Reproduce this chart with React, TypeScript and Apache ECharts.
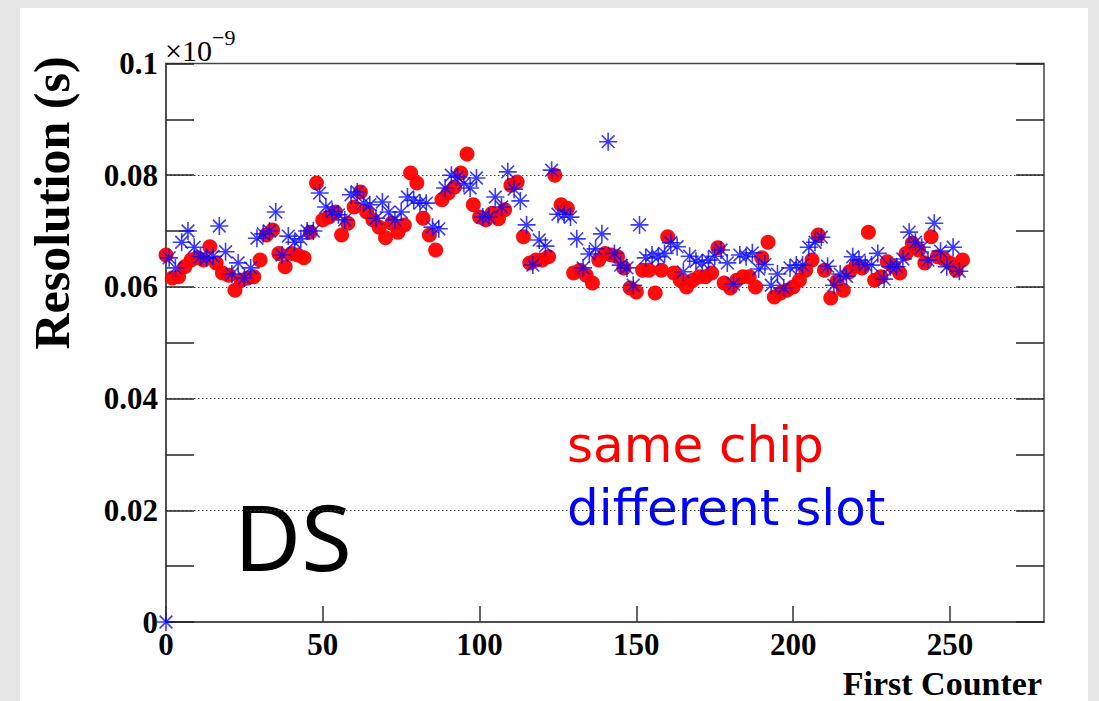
import React, { useEffect, useRef } from "react";
import * as echarts from "echarts";

// same chip: [first counter, resolution (x1e-9 s)]
const sameChip: [number, number][] = [
  [0, 0.0657], [2, 0.0616], [4, 0.0618], [6, 0.0636], [8, 0.0648], [10, 0.0652], [12, 0.0648], [14, 0.0672],
  [16, 0.0643], [18, 0.0625], [20, 0.0621], [22, 0.0594], [24, 0.0612], [26, 0.0616], [28, 0.0618], [30, 0.0648],
  [32, 0.0693], [34, 0.0702], [36, 0.066], [38, 0.0636], [40, 0.066], [42, 0.0657], [44, 0.0652], [46, 0.0698],
  [48, 0.0786], [50, 0.072], [52, 0.0725], [54, 0.0734], [56, 0.0693], [58, 0.0714], [60, 0.0743], [62, 0.077],
  [64, 0.0734], [66, 0.072], [68, 0.0707], [70, 0.0688], [72, 0.0714], [74, 0.0698], [76, 0.0711], [78, 0.0804],
  [80, 0.0786], [82, 0.0723], [84, 0.0693], [86, 0.0666], [88, 0.0756], [90, 0.0768], [92, 0.0779], [94, 0.0804],
  [96, 0.0838], [98, 0.0747], [100, 0.0725], [102, 0.072], [104, 0.0732], [106, 0.0722], [108, 0.0738], [110, 0.0782],
  [112, 0.0788], [114, 0.069], [116, 0.0643], [118, 0.0648], [120, 0.0648], [122, 0.0654], [124, 0.08], [126, 0.0747],
  [128, 0.0741], [130, 0.0625], [132, 0.063], [134, 0.0621], [136, 0.0607], [138, 0.0648], [140, 0.066], [142, 0.0657],
  [144, 0.0654], [146, 0.0634], [148, 0.0598], [150, 0.0591], [152, 0.063], [154, 0.063], [156, 0.0589], [158, 0.063],
  [160, 0.069], [162, 0.0625], [164, 0.0612], [166, 0.06], [168, 0.0612], [170, 0.0618], [172, 0.0618], [174, 0.0625],
  [176, 0.067], [178, 0.0607], [180, 0.0598], [182, 0.0612], [184, 0.0618], [186, 0.0618], [188, 0.06], [190, 0.0652],
  [192, 0.068], [194, 0.0582], [196, 0.0589], [198, 0.0594], [200, 0.06], [202, 0.0612], [204, 0.063], [206, 0.0648],
  [208, 0.0693], [210, 0.063], [212, 0.058], [214, 0.061], [216, 0.0594], [218, 0.0627], [220, 0.0638], [222, 0.0634],
  [224, 0.0698], [226, 0.0612], [228, 0.0618], [230, 0.0645], [232, 0.0636], [234, 0.0625], [236, 0.066], [238, 0.0678],
  [240, 0.0666], [242, 0.0643], [244, 0.069], [246, 0.0654], [248, 0.065], [250, 0.0643], [252, 0.063], [254, 0.0648],
];

// different slot
const differentSlot: [number, number][] = [
  [0, 0], [1, 0.0652], [3, 0.0634], [5, 0.068], [7, 0.07], [9, 0.0671], [11, 0.0654], [13, 0.0652], [15, 0.0655],
  [17, 0.0709], [19, 0.0663], [21, 0.0623], [23, 0.0643], [25, 0.0616], [27, 0.0634], [29, 0.0687], [31, 0.0695],
  [33, 0.07], [35, 0.0734], [37, 0.0657], [39, 0.0691], [41, 0.068], [43, 0.0686], [45, 0.07], [47, 0.07],
  [49, 0.0768], [51, 0.0743], [53, 0.0735], [55, 0.0729], [57, 0.072], [59, 0.0765], [61, 0.077], [63, 0.075],
  [65, 0.0747], [67, 0.0723], [69, 0.0752], [71, 0.0734], [73, 0.072], [75, 0.0734], [77, 0.0761], [79, 0.0755],
  [81, 0.075], [83, 0.075], [85, 0.0707], [87, 0.0704], [89, 0.0777], [91, 0.08], [93, 0.0797], [95, 0.0785],
  [97, 0.0777], [99, 0.0795], [101, 0.0725], [103, 0.0725], [105, 0.0761], [107, 0.0743], [109, 0.0806], [111, 0.0775],
  [113, 0.0754], [115, 0.0711], [117, 0.0639], [119, 0.0684], [121, 0.0673], [123, 0.0809], [125, 0.073], [127, 0.073],
  [129, 0.0725], [131, 0.0686], [133, 0.0634], [135, 0.0659], [137, 0.0668], [139, 0.0695], [141, 0.086], [143, 0.066],
  [145, 0.0639], [147, 0.0634], [149, 0.0603], [151, 0.0711], [153, 0.0652], [155, 0.0657], [157, 0.0654], [159, 0.066],
  [161, 0.0679], [163, 0.0672], [165, 0.0627], [167, 0.0655], [169, 0.0646], [171, 0.0643], [173, 0.0648], [175, 0.0655],
  [177, 0.0666], [179, 0.0643], [181, 0.0605], [183, 0.0657], [185, 0.0654], [187, 0.0661], [189, 0.0632], [191, 0.064],
  [193, 0.0603], [195, 0.0623], [197, 0.0598], [199, 0.0634], [201, 0.0639], [203, 0.0639], [205, 0.0671], [207, 0.068],
  [209, 0.0689], [211, 0.0637], [213, 0.0603], [215, 0.0623], [217, 0.0619], [219, 0.0654], [221, 0.0648], [223, 0.064],
  [225, 0.0639], [227, 0.066], [229, 0.0614], [231, 0.0636], [233, 0.0636], [235, 0.065], [237, 0.0698], [239, 0.068],
  [241, 0.0671], [243, 0.0648], [245, 0.0714], [247, 0.0664], [249, 0.0636], [251, 0.0671], [253, 0.0628],
];

const xMin = 0;
const xMax = 280;
const xInterval = 50;
const yMin = 0;
const yMax = 0.1;
const yInterval = 0.02;

const SERIF = "'Liberation Serif', 'Times New Roman', serif";
const SANS = "'DejaVu Sans', sans-serif";
const SANS_DS = "'Noto Sans', sans-serif";
const ASTERISK = "path://M0,-10L0,10M-10,0L10,0M-7.07,-7.07L7.07,7.07M-7.07,7.07L7.07,-7.07";

export default function App() {
  const ref = useRef<HTMLDivElement>(null);
  useEffect(() => {
    if (!ref.current) return;
    const chart = echarts.init(ref.current, undefined, { renderer: "svg" });
    const fmtY = (v: number) => (v === 0 ? "0" : String(parseFloat(v.toFixed(3))));
    chart.setOption({
      animation: false,
      backgroundColor: "#e6e6e6",
      grid: {
        left: 166,
        top: 63.5,
        right: 55,
        bottom: 79,
        show: true,
        backgroundColor: "#ffffff",
        borderColor: "#444",
        borderWidth: 1.5,
      },
      xAxis: {
        type: "value",
        min: xMin,
        max: xMax,
        interval: xInterval,
        axisLine: { show: true, onZero: false, lineStyle: { color: "#444", width: 1.5 } },
        axisTick: { show: true, inside: true, length: 16, lineStyle: { color: "#333", width: 1.5 } },
        axisLabel: {
          show: true,
          margin: 7,
          showMaxLabel: false,
          fontFamily: SERIF,
          fontWeight: "bold",
          fontSize: 31,
          color: "#000",
          formatter: (v: number) => (v > 250 ? "" : String(v)),
        },
        splitLine: { show: false },
      },
      yAxis: [
        {
          type: "value",
          min: yMin,
          max: yMax,
          interval: yInterval,
          position: "left",
          axisLine: { show: true, lineStyle: { color: "#444", width: 1.5 } },
          axisTick: { show: true, inside: true, length: 28, lineStyle: { color: "#222", width: 1.5 } },
          minorTick: { show: true, splitNumber: 2, length: 28, lineStyle: { color: "#222", width: 1.5 } },
          axisLabel: {
            show: true,
            margin: 8,
            fontFamily: SERIF,
            fontWeight: "bold",
            fontSize: 31,
            color: "#000",
            formatter: fmtY,
          },
          splitLine: {
            show: true,
            showMinLine: false,
            showMaxLine: false,
            lineStyle: { color: "#444", width: 1.2, type: [1.5, 2.5] },
          },
        },
        {
          type: "value",
          min: yMin,
          max: yMax,
          interval: yInterval,
          position: "right",
          axisLine: { show: false },
          axisTick: { show: true, inside: true, length: 28, lineStyle: { color: "#222", width: 1.5 } },
          minorTick: { show: true, splitNumber: 2, length: 28, lineStyle: { color: "#222", width: 1.5 } },
          axisLabel: { show: false },
          splitLine: { show: false },
        },
      ],
      series: [
        {
          name: "same chip",
          type: "scatter",
          data: sameChip,
          symbol: "circle",
          symbolSize: 15,
          clip: false,
          itemStyle: { color: "#ff0000", opacity: 0.95 },
          z: 3,
        },
        {
          name: "different slot",
          type: "scatter",
          data: differentSlot,
          symbol: ASTERISK,
          symbolSize: 18,
          clip: false,
          itemStyle: { color: "none", borderColor: "#0a0aff", borderWidth: 1.6 },
          z: 4,
        },
      ],
      graphic: [
        {
          type: "rect",
          z: -100,
          shape: { x: 20, y: 8, width: 1068, height: 700 },
          style: { fill: "#ffffff" },
        },
        {
          type: "text",
          x: 52,
          y: 203,
          rotation: Math.PI / 2,
          style: {
            text: "Resolution (s)",
            font: `bold 50px ${SERIF}`,
            fill: "#000",
            align: "center",
            verticalAlign: "middle",
          },
        },
        {
          type: "text",
          x: 1042,
          y: 683,
          style: {
            text: "First Counter",
            font: `bold 34px ${SERIF}`,
            fill: "#000",
            align: "right",
            verticalAlign: "middle",
          },
        },
        {
          type: "text",
          x: 165,
          y: 50,
          style: {
            text: "×10",
            fontFamily: SERIF,
            fontSize: 30,
            fontWeight: "normal",
            fill: "#000",
            align: "left",
            verticalAlign: "middle",
          },
        },
        {
          type: "text",
          x: 212,
          y: 37,
          style: {
            text: "−9",
            fontFamily: SERIF,
            fontSize: 22,
            fontWeight: "normal",
            fill: "#000",
            align: "left",
            verticalAlign: "middle",
          },
        },
        {
          type: "text",
          x: 567,
          y: 445,
          style: {
            text: "same chip",
            font: `50px ${SANS}`,
            fill: "#ff0000",
            align: "left",
            verticalAlign: "middle",
          },
        },
        {
          type: "text",
          x: 567,
          y: 508,
          style: {
            text: "different slot",
            font: `50px ${SANS}`,
            fill: "#0000ff",
            align: "left",
            verticalAlign: "middle",
          },
        },
        {
          type: "text",
          x: 234,
          y: 535,
          style: {
            text: "DS",
            font: `92px ${SANS_DS}`,
            fill: "#000",
            align: "left",
            verticalAlign: "middle",
          },
        },
      ],
    });
    return () => chart.dispose();
  }, []);
  return (
    <div
      ref={ref}
      style={{ position: "fixed", left: 0, top: 0, width: 1099, height: 701, background: "#e6e6e6" }}
    />
  );
}
